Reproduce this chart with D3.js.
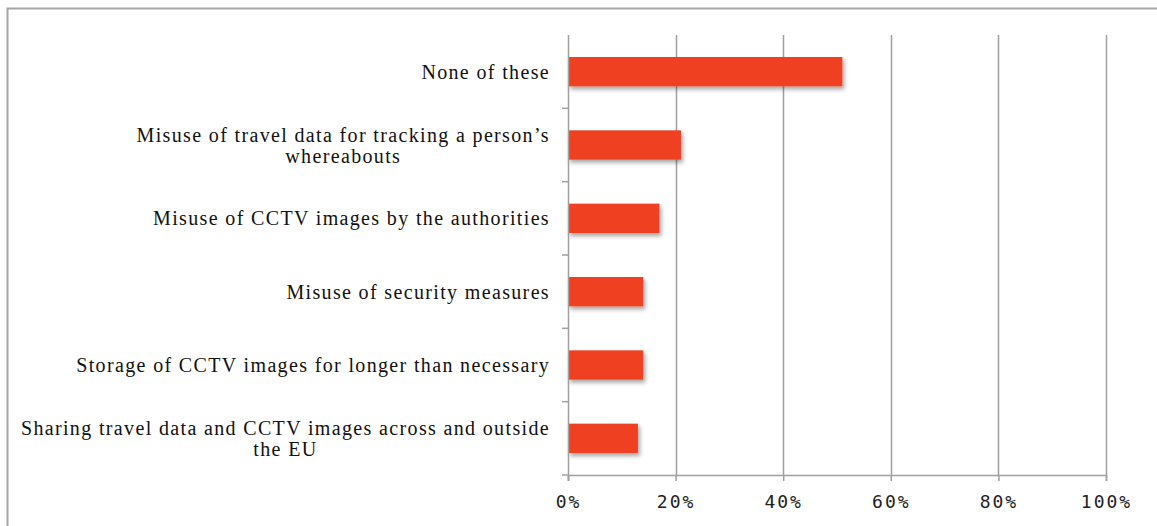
<!DOCTYPE html>
<html>
<head>
<meta charset="utf-8">
<script src="https://cdn.jsdelivr.net/npm/d3@7"></script>
<style>
  body { margin: 0; background: #fff; }
  svg { display: block; }
</style>
</head>
<body>
<div id="chart"></div>
<script>
// categories top to bottom, each entry is lines of its label
const categories = [
  ["None of these"],
  ["Misuse of travel data for tracking a person\u2019s", "whereabouts"],
  ["Misuse of CCTV images by the authorities"],
  ["Misuse of security measures"],
  ["Storage of CCTV images for longer than necessary"],
  ["Sharing travel data and CCTV images across and outside", "the EU"]
];
const values = [51, 21, 17, 14, 14, 13];
const xTicks = [0, 20, 40, 60, 80, 100];

const W = 1157, H = 526;
const margin = {top: 35, right: 51, bottom: 51, left: 568};
const width = W - margin.left - margin.right;
const height = H - margin.top - margin.bottom;

const svg = d3.select("#chart").append("svg")
  .attr("width", W)
  .attr("height", H);

// outer frame
svg.append("rect")
  .attr("x", 7.5).attr("y", 8.5)
  .attr("width", W + 10).attr("height", H + 10)
  .attr("fill", "none")
  .attr("stroke", "#a6a6a6")
  .attr("stroke-width", 2);

const defs = svg.append("defs");
defs.append("filter")
  .attr("id", "shadow")
  .attr("x", "-10%").attr("y", "-30%")
  .attr("width", "130%").attr("height", "180%")
  .append("feDropShadow")
  .attr("dx", 2).attr("dy", 3)
  .attr("stdDeviation", 2)
  .attr("flood-color", "#000")
  .attr("flood-opacity", 0.35);

const g = svg.append("g")
  .attr("transform", `translate(${margin.left},${margin.top})`);

const x = d3.scaleLinear().domain([0, 100]).range([0, width]);
const y = d3.scaleBand()
  .domain(d3.range(categories.length))
  .range([0, height])
  .paddingInner(0.6)
  .paddingOuter(0.3);

// vertical gridlines
g.append("g")
  .selectAll("line")
  .data(xTicks.slice(1))
  .join("line")
  .attr("x1", d => Math.round(x(d)) + 0.5)
  .attr("x2", d => Math.round(x(d)) + 0.5)
  .attr("y1", 0)
  .attr("y2", height)
  .attr("stroke", "#a0a0a0")
  .attr("stroke-width", 1.5);

// bars
g.append("g")
  .selectAll("rect")
  .data(values)
  .join("rect")
  .attr("x", 0)
  .attr("y", (d, i) => y(i))
  .attr("width", d => x(d))
  .attr("height", y.bandwidth())
  .attr("fill", "#ef4123")
  .attr("filter", "url(#shadow)");

// x axis
const xAxis = g.append("g")
  .attr("transform", `translate(0,${height})`)
  .call(d3.axisBottom(x)
    .tickValues(xTicks)
    .tickFormat(d => d + "%")
    .tickSizeOuter(0)
    .tickSize(6)
    .tickPadding(14));
xAxis.select(".domain").attr("stroke", "#a0a0a0").attr("stroke-width", 1.5);
xAxis.selectAll(".tick line").attr("stroke", "#a0a0a0").attr("stroke-width", 1.5);
xAxis.selectAll("text")
  .attr("font-family", "'DejaVu Sans Mono', monospace")
  .attr("font-size", 18)
  .attr("letter-spacing", "2px")
  .attr("fill", "#222");

// y axis line and category boundary ticks
const step = height / categories.length;
g.append("line")
  .attr("x1", 0.5).attr("x2", 0.5)
  .attr("y1", 0).attr("y2", height + 6)
  .attr("stroke", "#a0a0a0").attr("stroke-width", 1.5);
g.append("g")
  .selectAll("line")
  .data(d3.range(1, categories.length + 1))
  .join("line")
  .attr("x1", -6).attr("x2", 0)
  .attr("y1", d => d * step)
  .attr("y2", d => d * step)
  .attr("stroke", "#a0a0a0").attr("stroke-width", 1.5);

// category labels, centred lines, right edge at 549
const lineH = 21;
const labels = g.append("g")
  .selectAll("text")
  .data(categories)
  .join("text")
  .attr("font-family", "'Liberation Serif', serif")
  .attr("font-size", 20)
  .attr("letter-spacing", "1.35px")
  .attr("fill", "#111")
  .attr("text-anchor", "middle");

labels.each(function(lines, i) {
  const t = d3.select(this);
  const cy = y(i) + y.bandwidth() / 2;
  const y0 = cy - (lines.length - 1) * lineH / 2 + 7;
  lines.forEach((s, k) => {
    t.append("tspan").attr("y", y0 + k * lineH).text(s);
  });
  // widest line decides the centre, so the right edge sits at 549
  let maxW = 0;
  t.selectAll("tspan").each(function() {
    maxW = Math.max(maxW, this.getComputedTextLength());
  });
  t.selectAll("tspan").attr("x", -18 - maxW / 2);
});
</script>
</body>
</html>
